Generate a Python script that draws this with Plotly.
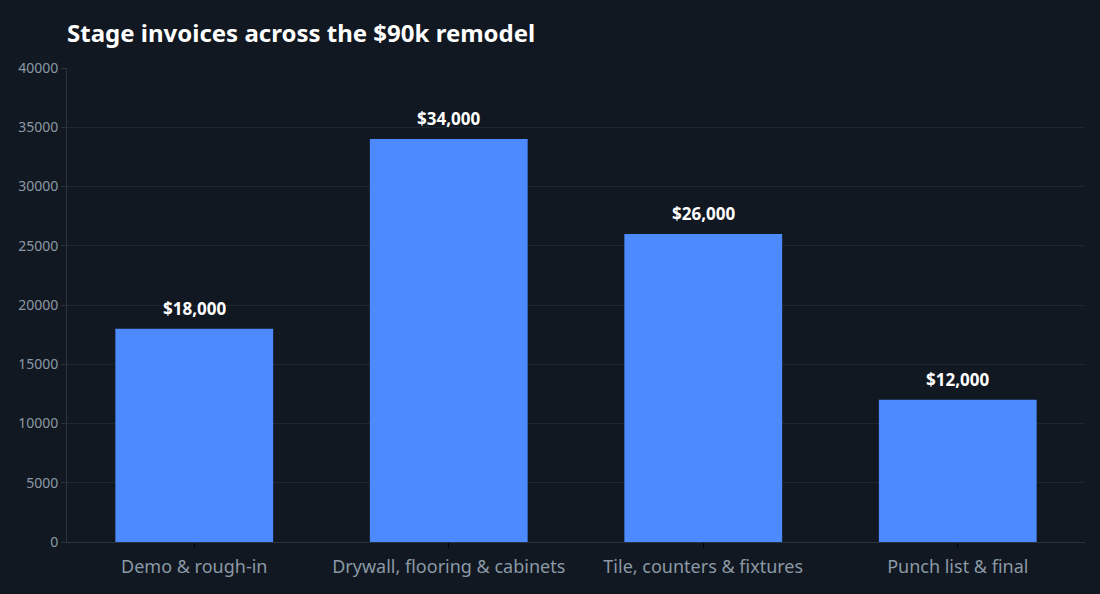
import plotly.graph_objects as go

stages = ["Demo & rough-in", "Drywall, flooring & cabinets", "Tile, counters & fixtures", "Punch list & final"]
amounts = [18000, 34000, 26000, 12000]
labels = ["$18,000", "$34,000", "$26,000", "$12,000"]

fig = go.Figure(go.Bar(
    x=stages, y=amounts,
    marker=dict(color="#4d8aff", line=dict(width=0)),
    hoverinfo="skip",
))
for s, a, t in zip(stages, amounts, labels):
    fig.add_annotation(x=s, y=a, text=f"<b>{t}</b>", showarrow=False, yanchor="bottom", yshift=7,
                       font=dict(family="Noto Sans", size=17, color="#ffffff"))
fig.update_layout(
    width=1100, height=594,
    paper_bgcolor="#111821", plot_bgcolor="#111821",
    font=dict(family="Noto Sans", color="#8b99a6"),
    title=dict(text="<b>Stage invoices across the $90k remodel</b>", x=67/1100, xanchor="left",
               y=1 - 34/594, yanchor="middle", font=dict(size=24, color="#ffffff")),
    margin=dict(l=67, r=15, t=68, b=52),
    bargap=0.38,
    showlegend=False,
)
fig.update_yaxes(range=[0, 40000], dtick=5000, tickformat="d", gridcolor="#1d2731", zeroline=False,
                 showline=True, linecolor="#2a3440", ticks="outside", tickcolor="#2a3440", ticklen=5,
                 tickfont=dict(size=14, color="#8b99a6"))
fig.update_xaxes(showline=True, linecolor="#2a3440", ticks="outside", tickcolor="#000000", ticklen=5,
                 ticklabelstandoff=3, tickfont=dict(size=18, color="#8b99a6"))
fig.write_html("out.html", config={"displayModeBar": False},
               post_script="document.body.style.margin='0';document.body.style.background='#111821';")
